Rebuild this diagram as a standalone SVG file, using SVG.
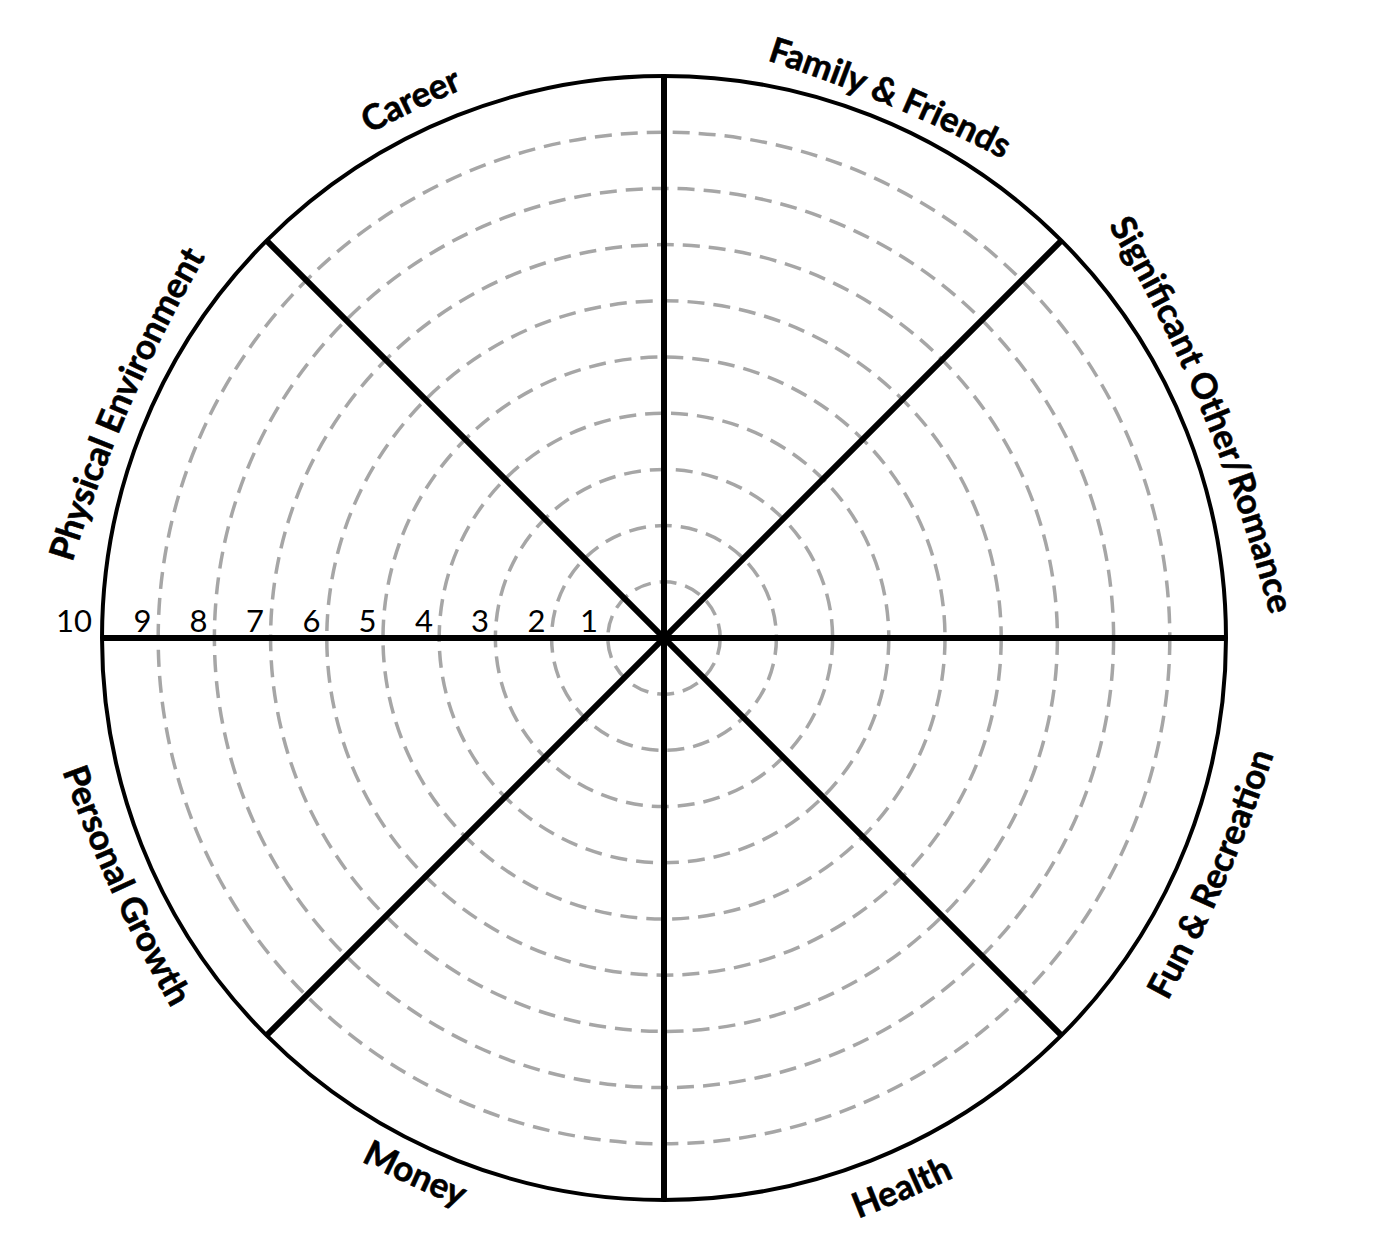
<svg xmlns="http://www.w3.org/2000/svg" xmlns:xlink="http://www.w3.org/1999/xlink" width="1383" height="1250" viewBox="0 0 1383 1250">
<style>
.ring{fill:none;stroke:#a6a6a6;stroke-width:3.5;stroke-dasharray:17 9}
.outer{fill:none;stroke:#000;stroke-width:4}
.spoke{stroke:#000;stroke-width:6;stroke-linecap:butt}
.lbl{font-family:Lato,"Liberation Sans",sans-serif;font-weight:bold;font-size:35px;fill:#000;stroke:#000;stroke-width:0.6}
.num{font-family:Lato,"Liberation Sans",sans-serif;font-size:31px;fill:#000;text-anchor:middle}
</style>
<defs>
<path id="p-career" d="M 159.2 265.2 A 1500 1500 0 0 1 697.5 9.6"/>
<path id="p-family" d="M 600.6 17.3 A 1500 1500 0 0 1 1150.4 247.2"/>
<path id="p-significant" d="M 1061 150.5 A 1500 1500 0 0 1 1289.5 701.6"/>
<path id="p-physical" d="M 38.9 691.1 A 1500 1500 0 0 1 276.6 144.3"/>
<path id="p-personal" d="M 14.3 608.8 A 1500 1500 0 0 0 263.4 1150.4"/>
<path id="p-money" d="M 152.5 1032.5 A 1500 1500 0 0 0 693 1283.3"/>
<path id="p-health" d="M 621.4 1289.7 A 1500 1500 0 0 0 1168.1 1053.2"/>
<path id="p-fun" d="M 1080.9 1142 A 1500 1500 0 0 0 1316.6 594.6"/>
</defs>
<rect width="1383" height="1250" fill="#fff"/>
<g id="rings">
<circle class="ring" cx="664" cy="638" r="56.2"/>
<circle class="ring" cx="664" cy="638" r="112.4"/>
<circle class="ring" cx="664" cy="638" r="168.6"/>
<circle class="ring" cx="664" cy="638" r="224.8"/>
<circle class="ring" cx="664" cy="638" r="281"/>
<circle class="ring" cx="664" cy="638" r="337.2"/>
<circle class="ring" cx="664" cy="638" r="393.4"/>
<circle class="ring" cx="664" cy="638" r="449.6"/>
<circle class="ring" cx="664" cy="638" r="505.8"/>
</g>
<g id="wheel">
<circle class="outer" cx="664" cy="638" r="562"/>
</g>
<g id="connectors">
<line class="spoke" x1="664" y1="76" x2="664" y2="1200"/>
<line class="spoke" x1="102" y1="638" x2="1226" y2="638"/>
<line class="spoke" x1="266.6" y1="240.6" x2="1061.4" y2="1035.4"/>
<line class="spoke" x1="1061.4" y1="240.6" x2="266.6" y2="1035.4"/>
</g>
<g id="scale">
<text class="num" x="74" y="632">10</text>
<text class="num" x="142.5" y="632">9</text>
<text class="num" x="198.5" y="632">8</text>
<text class="num" x="255" y="632">7</text>
<text class="num" x="311.5" y="632">6</text>
<text class="num" x="367.5" y="632">5</text>
<text class="num" x="424" y="632">4</text>
<text class="num" x="480" y="632">3</text>
<text class="num" x="536.5" y="632">2</text>
<text class="num" x="589" y="632">1</text>
</g>
<g id="label-physical"><text class="lbl"><textPath xlink:href="#p-physical" href="#p-physical" startOffset="50%" text-anchor="middle">Physical Environment</textPath></text></g>
<g id="label-career"><text class="lbl"><textPath xlink:href="#p-career" href="#p-career" startOffset="50%" text-anchor="middle">Career</textPath></text></g>
<g id="label-family"><text class="lbl"><textPath xlink:href="#p-family" href="#p-family" startOffset="50%" text-anchor="middle">Family &amp; Friends</textPath></text></g>
<g id="label-significant"><text class="lbl"><textPath xlink:href="#p-significant" href="#p-significant" startOffset="50%" text-anchor="middle">Significant Other/Romance</textPath></text></g>
<g id="label-personal"><text class="lbl"><textPath xlink:href="#p-personal" href="#p-personal" startOffset="50%" text-anchor="middle">Personal Growth</textPath></text></g>
<g id="label-money"><text class="lbl"><textPath xlink:href="#p-money" href="#p-money" startOffset="50%" text-anchor="middle">Money</textPath></text></g>
<g id="label-health"><text class="lbl"><textPath xlink:href="#p-health" href="#p-health" startOffset="50%" text-anchor="middle">Health</textPath></text></g>
<g id="label-fun"><text class="lbl"><textPath xlink:href="#p-fun" href="#p-fun" startOffset="50%" text-anchor="middle">Fun &amp; Recreation</textPath></text></g>
</svg>
